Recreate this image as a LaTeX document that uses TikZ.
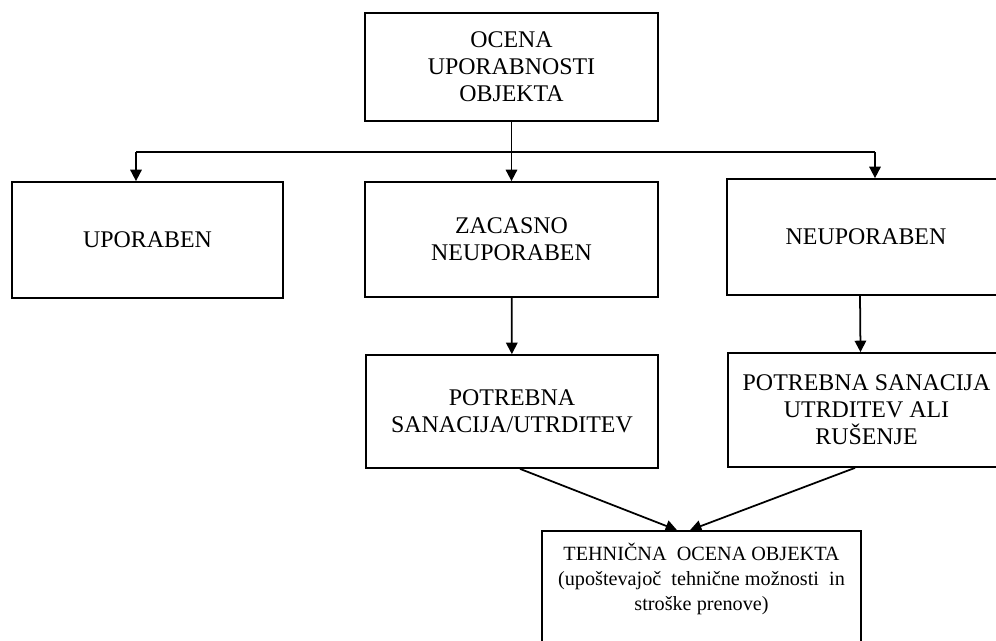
\documentclass[tikz,border=0pt]{standalone}
\usepackage{fontspec}
\setmainfont{Liberation Serif}
\usetikzlibrary{arrows.meta}

\begin{document}
\begin{tikzpicture}[x=0.02cm, y=-0.02cm, line width=1pt,
  every node/.style={inner sep=0pt, align=center},
  >={Triangle[length=6.5pt, width=6.5pt]}]
\useasboundingbox (0,0) rectangle (996,641);

\coordinate (OC) at (511.5, 67);
\coordinate (UP) at (147.5, 240);
\coordinate (ZA) at (511.5, 239.5);
\coordinate (NE) at (866, 237);
\coordinate (PO) at (512, 411.5);
\coordinate (RU) at (866.5, 410);
\coordinate (TE) at (701.5, 595.5);

\coordinate (jL) at (136, 152);
\coordinate (jR) at (875, 152);

\fontsize{13.6}{15.3}\selectfont
\begin{scope}[every node/.style={draw, inner sep=0pt, align=center}]
\node[minimum width=5.86cm, minimum height=2.16cm] (ocena) at (OC) {OCENA\\UPORABNOSTI\\OBJEKTA};
\node[minimum width=5.42cm, minimum height=2.32cm] (upo) at (UP) {UPORABEN};
\node[minimum width=5.86cm, minimum height=2.30cm] (zac) at (ZA) {ZACASNO\\NEUPORABEN};
\node[minimum width=5.56cm, minimum height=2.32cm] (neu) at (NE) {NEUPORABEN};
\node[minimum width=5.84cm, minimum height=2.26cm] (pot) at (PO) {POTREBNA\\SANACIJA/UTRDITEV};
\node[minimum width=5.54cm, minimum height=2.28cm] (rus) at (RU) {POTREBNA SANACIJA\\UTRDITEV ALI\\RUŠENJE};
\node[minimum width=6.38cm, minimum height=2.58cm] (teh) at (TE) {};
\end{scope}

\fontsize{11.5}{14.2}\selectfont
\node (tehT) at (701.5, 579) {TEHNIČNA\ \ OCENA OBJEKTA\\(upoštevajoč\ \ tehnične možnosti\ \ in\\stroške prenove)};

\draw[->] (ocena) -- (zac);
\draw (jL) -- (jR);
\draw[->] (jL) -- (jL |- upo.north);
\draw[->] (jR) -- (jR |- neu.north);
\draw[->] (zac) -- (pot);
\draw[->] ([xshift=-0.12cm]neu.south) -- ([xshift=-0.12cm]rus.north);
\draw[->] ([xshift=0.16cm]pot.south) -- ([xshift=-0.49cm]teh.north);
\draw[->] ([xshift=-0.23cm]rus.south) -- ([xshift=-0.23cm]teh.north);

\end{tikzpicture}
\end{document}
